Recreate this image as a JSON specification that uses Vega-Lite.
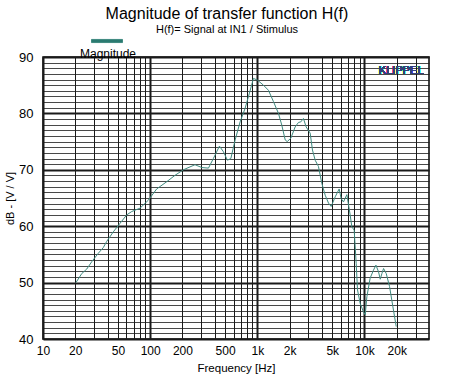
{
  "$schema": "https://vega.github.io/schema/vega-lite/v6.json",
  "autosize": {"type": "none"},
  "width": 386,
  "height": 282,
  "padding": {"left": 43, "top": 57, "right": 21, "bottom": 38},
  "background": "white",
  "title": {
    "text": "Magnitude of transfer function H(f)",
    "subtitle": "H(f)= Signal at IN1 / Stimulus",
    "anchor": "middle",
    "frame": "group",
    "dx": -9,
    "offset": -10,
    "font": "Liberation Sans",
    "fontSize": 16,
    "fontWeight": "normal",
    "color": "black",
    "subtitleFont": "Liberation Sans",
    "subtitleFontSize": 11,
    "subtitleColor": "black",
    "subtitlePadding": 2
  },
  "config": {
    "view": {"stroke": "black", "strokeWidth": 1.5},
    "font": "Liberation Sans"
  },
  "resolve": {"axis": {"x": "independent", "y": "independent"}},
  "data": {
    "values": [
      {"f": 20.3, "db": 50.0, "s": "Magnitude"},
      {"f": 23, "db": 51.6, "s": "Magnitude"},
      {"f": 25.6, "db": 52.4, "s": "Magnitude"},
      {"f": 28.5, "db": 53.7, "s": "Magnitude"},
      {"f": 32.8, "db": 55.2, "s": "Magnitude"},
      {"f": 36.5, "db": 56.2, "s": "Magnitude"},
      {"f": 39.3, "db": 57.3, "s": "Magnitude"},
      {"f": 45.3, "db": 59.0, "s": "Magnitude"},
      {"f": 52.3, "db": 60.5, "s": "Magnitude"},
      {"f": 60.4, "db": 62.0, "s": "Magnitude"},
      {"f": 67.3, "db": 62.6, "s": "Magnitude"},
      {"f": 80.5, "db": 63.2, "s": "Magnitude"},
      {"f": 96, "db": 64.6, "s": "Magnitude"},
      {"f": 115, "db": 66.6, "s": "Magnitude"},
      {"f": 143, "db": 67.9, "s": "Magnitude"},
      {"f": 170, "db": 69.0, "s": "Magnitude"},
      {"f": 204, "db": 70.0, "s": "Magnitude"},
      {"f": 262, "db": 70.9, "s": "Magnitude"},
      {"f": 303, "db": 70.4, "s": "Magnitude"},
      {"f": 350, "db": 70.3, "s": "Magnitude"},
      {"f": 389, "db": 72.0, "s": "Magnitude"},
      {"f": 443, "db": 74.2, "s": "Magnitude"},
      {"f": 483, "db": 73.2, "s": "Magnitude"},
      {"f": 526, "db": 71.7, "s": "Magnitude"},
      {"f": 566, "db": 72.0, "s": "Magnitude"},
      {"f": 621, "db": 75.3, "s": "Magnitude"},
      {"f": 691, "db": 78.5, "s": "Magnitude"},
      {"f": 769, "db": 80.9, "s": "Magnitude"},
      {"f": 844, "db": 83.6, "s": "Magnitude"},
      {"f": 920, "db": 86.2, "s": "Magnitude"},
      {"f": 1003, "db": 85.9, "s": "Magnitude"},
      {"f": 1141, "db": 85.0, "s": "Magnitude"},
      {"f": 1270, "db": 84.1, "s": "Magnitude"},
      {"f": 1414, "db": 82.1, "s": "Magnitude"},
      {"f": 1575, "db": 80.0, "s": "Magnitude"},
      {"f": 1693, "db": 77.9, "s": "Magnitude"},
      {"f": 1820, "db": 75.3, "s": "Magnitude"},
      {"f": 1900, "db": 75.0, "s": "Magnitude"},
      {"f": 2055, "db": 75.6, "s": "Magnitude"},
      {"f": 2254, "db": 77.6, "s": "Magnitude"},
      {"f": 2422, "db": 78.4, "s": "Magnitude"},
      {"f": 2547, "db": 78.5, "s": "Magnitude"},
      {"f": 2693, "db": 79.1, "s": "Magnitude"},
      {"f": 2855, "db": 77.6, "s": "Magnitude"},
      {"f": 3113, "db": 76.5, "s": "Magnitude"},
      {"f": 3271, "db": 73.5, "s": "Magnitude"},
      {"f": 3467, "db": 71.7, "s": "Magnitude"},
      {"f": 3718, "db": 70.6, "s": "Magnitude"},
      {"f": 3999, "db": 67.6, "s": "Magnitude"},
      {"f": 4297, "db": 65.5, "s": "Magnitude"},
      {"f": 4614, "db": 64.1, "s": "Magnitude"},
      {"f": 4890, "db": 63.5, "s": "Magnitude"},
      {"f": 5327, "db": 65.2, "s": "Magnitude"},
      {"f": 5804, "db": 66.6, "s": "Magnitude"},
      {"f": 6057, "db": 64.9, "s": "Magnitude"},
      {"f": 6363, "db": 64.3, "s": "Magnitude"},
      {"f": 6850, "db": 65.6, "s": "Magnitude"},
      {"f": 7352, "db": 62.0, "s": "Magnitude"},
      {"f": 7620, "db": 59.9, "s": "Magnitude"},
      {"f": 8014, "db": 59.3, "s": "Magnitude"},
      {"f": 8370, "db": 53.4, "s": "Magnitude"},
      {"f": 8610, "db": 48.7, "s": "Magnitude"},
      {"f": 9120, "db": 46.3, "s": "Magnitude"},
      {"f": 9790, "db": 44.8, "s": "Magnitude"},
      {"f": 10160, "db": 44.3, "s": "Magnitude"},
      {"f": 10530, "db": 47.5, "s": "Magnitude"},
      {"f": 11300, "db": 50.8, "s": "Magnitude"},
      {"f": 12130, "db": 52.2, "s": "Magnitude"},
      {"f": 12790, "db": 53.1, "s": "Magnitude"},
      {"f": 13530, "db": 51.9, "s": "Magnitude"},
      {"f": 14030, "db": 50.6, "s": "Magnitude"},
      {"f": 14540, "db": 51.6, "s": "Magnitude"},
      {"f": 15070, "db": 52.5, "s": "Magnitude"},
      {"f": 15960, "db": 51.6, "s": "Magnitude"},
      {"f": 17140, "db": 49.3, "s": "Magnitude"},
      {"f": 18420, "db": 45.7, "s": "Magnitude"},
      {"f": 19780, "db": 42.2, "s": "Magnitude"}
    ]
  },
  "layer": [
    {
      "mark": {"type": "line", "strokeWidth": 1, "clip": true},
      "encoding": {
        "x": {
          "field": "f", "type": "quantitative",
          "scale": {"type": "log", "domain": [10, 40000], "nice": false},
          "axis": {
            "title": "Frequency [Hz]",
            "titleFontSize": 11.5,
            "titleFontWeight": "normal",
            "titlePadding": 6,
            "values": [10,20,30,40,50,60,70,80,90,100,200,300,400,500,600,700,800,900,1000,2000,3000,4000,5000,6000,7000,8000,9000,10000,20000,30000],
            "labelExpr": "indexof([10,20,50,100,200,500],datum.value)>=0 ? datum.value+'' : (indexof([1000,2000,5000,10000,20000],datum.value)>=0 ? (datum.value/1000)+'k' : '')",
            "labelFontSize": 12,
            "labelColor": "black",
            "labelPadding": 6,
            "labelFlush": false,
            "labelOverlap": false,
            "ticks": false,
            "domain": false,
            "grid": true,
            "gridColor": "#1a1a1a",
            "gridOpacity": 1,
            "gridWidth": {"condition": {"test": "indexof([10,100,1000,10000],datum.value)>=0", "value": 2}, "value": 1}
          }
        },
        "y": {
          "field": "db", "type": "quantitative",
          "scale": {"domain": [40, 90], "nice": false, "zero": false},
          "axis": {
            "title": "dB - [V / V]",
            "titleFontSize": 11,
            "titleFontWeight": "normal",
            "titlePadding": 3,
            "values": [40,41,42,43,44,45,46,47,48,49,50,51,52,53,54,55,56,57,58,59,60,61,62,63,64,65,66,67,68,69,70,71,72,73,74,75,76,77,78,79,80,81,82,83,84,85,86,87,88,89,90],
            "labelExpr": "datum.value % 10 === 0 ? datum.value + '' : ''",
            "labelFontSize": 13,
            "labelColor": "black",
            "labelPadding": 10,
            "labelOverlap": false,
            "ticks": false,
            "domain": false,
            "grid": true,
            "gridColor": "#1a1a1a",
            "gridOpacity": 1,
            "gridWidth": {"condition": {"test": "datum.value % 10 === 0", "value": 2}, "value": 0.8}
          }
        },
        "color": {
          "field": "s", "type": "nominal",
          "scale": {"range": ["#3f8a80"]},
          "legend": {
            "orient": "none",
            "legendX": 37,
            "legendY": -32,
            "title": "Magnitude",
            "titleOrient": "bottom",
            "titleFontSize": 12,
            "titleFontWeight": "normal",
            "titleColor": "black",
            "titlePadding": 4,
            "labelExpr": "''",
            "labelFontSize": 1,
            "symbolOffset": 11,
            "symbolType": "M-1,-0.1H1V0.1H-1Z",
            "symbolSize": 961,
            "symbolStrokeWidth": 1,
            "symbolStrokeColor": "#2a7a70",
            "symbolFillColor": "#2a7a70"
          }
        }
      }
    },
    {
      "mark": {"type": "text", "font": "Liberation Sans", "fontSize": 11, "color": "#33407a", "align": "center", "baseline": "middle"},
      "encoding": {
        "x": {"datum": 22000, "type": "quantitative", "axis": null},
        "y": {"datum": 87.6, "type": "quantitative", "axis": null},
        "text": {"value": "KLIPPEL"}
      }
    }
  ]
}
